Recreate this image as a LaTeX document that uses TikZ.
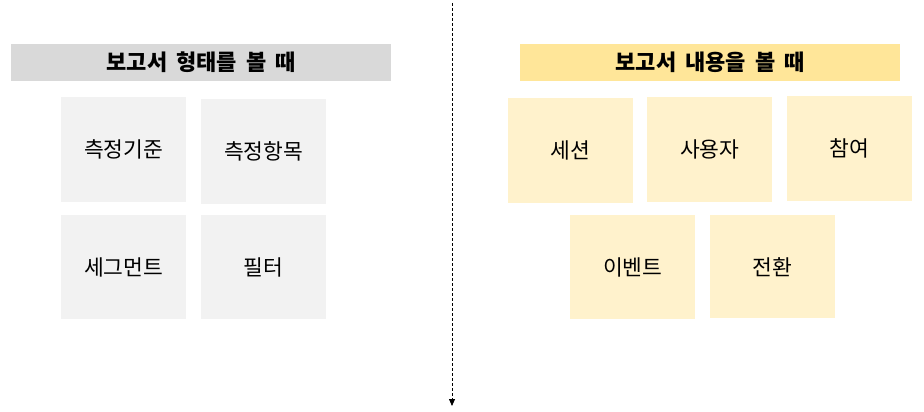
\documentclass[tikz,border=0pt]{standalone}
\usepackage{fontspec}
\setmainfont{Noto Sans CJK KR}
\usetikzlibrary{arrows.meta}
\definecolor{graybar}{HTML}{D9D9D9}
\definecolor{graybox}{HTML}{F2F2F2}
\definecolor{yellowbar}{HTML}{FFE699}
\definecolor{yellowbox}{HTML}{FFF2CC}
\newcommand\widewordspace{\spaceskip=9pt\relax}
\begin{document}
\begin{tikzpicture}[x=1pt,y=-1pt,
  titlebar/.style={anchor=north west, inner sep=0pt, minimum width=380pt, minimum height=37pt,
    font=\fontsize{22pt}{26pt}\selectfont\bfseries, execute at begin node=\widewordspace},
  card/.style={anchor=north west, inner sep=0pt, minimum width=125pt, minimum height=105pt,
    font=\fontsize{21.5pt}{25pt}\selectfont},
  divider/.style={densely dashed, line width=0.8pt, -{Triangle[length=7pt,width=6pt]}}]
\useasboundingbox (0,0) rectangle (924,412);
% left group
\node[titlebar, fill=graybar] (lt) at (11,44) {보고서 형태를 볼 때};
\node[card, fill=graybox] (l1) at (61,97) {측정기준};
\node[card, fill=graybox] (l2) at (201,99) {측정항목};
\node[card, fill=graybox, minimum height=104pt] (l3) at (61,215) {세그먼트};
\node[card, fill=graybox, minimum height=104pt] (l4) at (201,215) {필터};
% right group
\node[titlebar, fill=yellowbar] (rt) at (520,44) {보고서 내용을 볼 때};
\node[card, fill=yellowbox] (r1) at (508,98) {세션};
\node[card, fill=yellowbox] (r2) at (647,97) {사용자};
\node[card, fill=yellowbox] (r3) at (787,96) {참여};
\node[card, fill=yellowbox, minimum height=104pt] (r4) at (570,215) {이벤트};
\node[card, fill=yellowbox, minimum height=103pt] (r5) at (710,215) {전환};
% divider
\coordinate (dtop) at (452,3);
\coordinate (dbot) at (452,406);
\draw[divider] (dtop) -- (dbot);
\end{tikzpicture}
\end{document}
